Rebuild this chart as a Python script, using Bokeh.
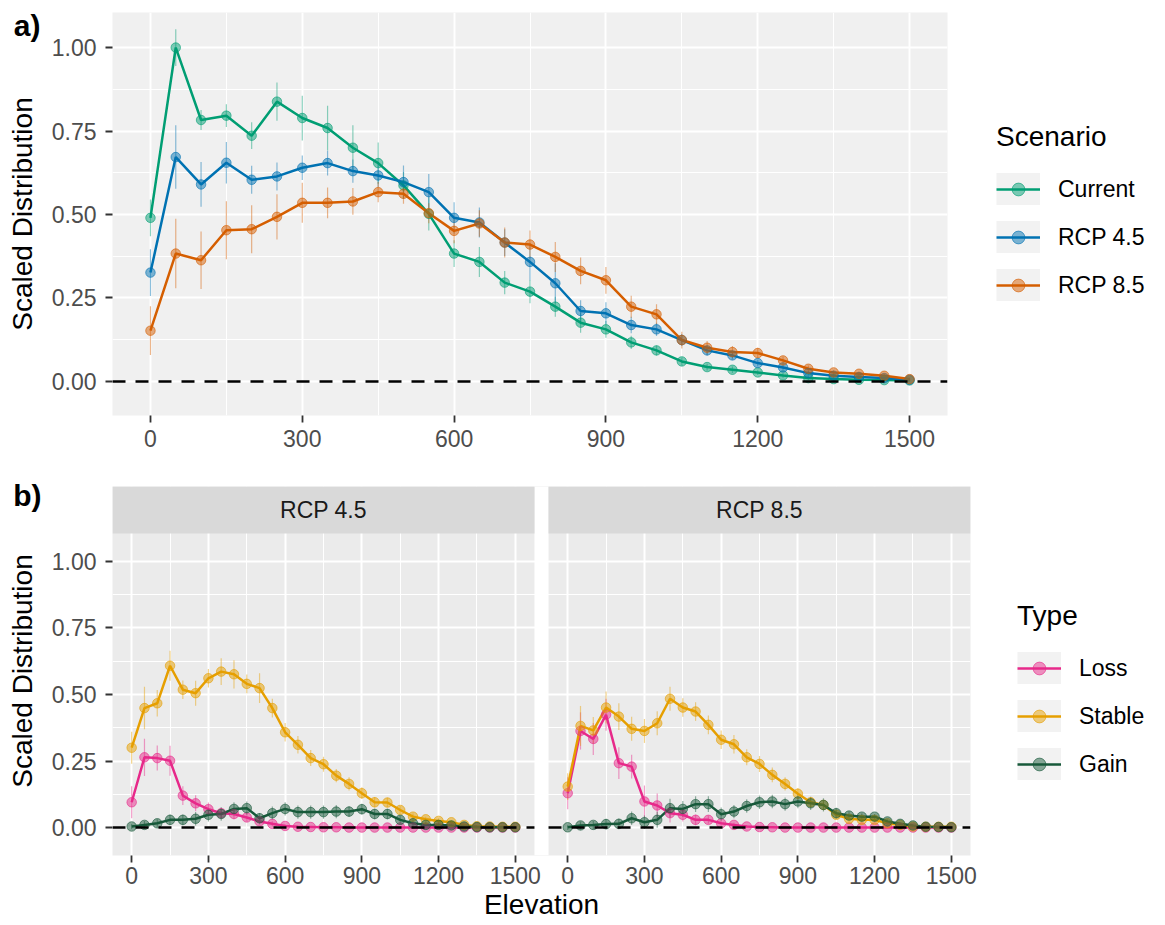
from bokeh.plotting import figure
from bokeh.models import (Range1d, FixedTicker, NumeralTickFormatter, Span, Label,
                          Legend, LegendItem, GridBox)
from bokeh.embed import file_html
from bokeh.resources import INLINE

# ---------------- data ----------------
elevation = [0, 50, 100, 150, 200, 250, 300, 350, 400, 450, 500, 550, 600, 650, 700, 750,
             800, 850, 900, 950, 1000, 1050, 1100, 1150, 1200, 1250, 1300, 1350, 1400, 1450, 1500]

scenarios = ["Current", "RCP 4.5", "RCP 8.5"]
current = [0.490, 1.000, 0.783, 0.796, 0.736, 0.838, 0.789, 0.759, 0.700, 0.654, 0.587, 0.502,
           0.383, 0.358, 0.296, 0.269, 0.224, 0.176, 0.156, 0.117, 0.093, 0.060, 0.043, 0.035,
           0.027, 0.018, 0.010, 0.007, 0.005, 0.004, 0.003]
current_err = [0.055, 0.055, 0.030, 0.034, 0.040, 0.057, 0.067, 0.067, 0.067, 0.062, 0.040, 0.050,
               0.040, 0.045, 0.035, 0.035, 0.030, 0.030, 0.025, 0.020, 0.015, 0.012, 0.010, 0.010,
               0.008, 0.007, 0.006, 0.005, 0.005, 0.004, 0.003]
rcp45 = [0.326, 0.672, 0.590, 0.655, 0.604, 0.614, 0.640, 0.654, 0.630, 0.617, 0.597, 0.567,
         0.490, 0.476, 0.416, 0.358, 0.294, 0.211, 0.204, 0.169, 0.156, 0.124, 0.093, 0.078,
         0.055, 0.042, 0.025, 0.017, 0.013, 0.010, 0.005]
rcp45_err = [0.070, 0.095, 0.067, 0.062, 0.042, 0.042, 0.037, 0.037, 0.035, 0.035, 0.050, 0.054,
             0.047, 0.045, 0.040, 0.055, 0.060, 0.032, 0.033, 0.025, 0.020, 0.018, 0.015, 0.012,
             0.010, 0.008, 0.007, 0.006, 0.005, 0.005, 0.004]
rcp85 = [0.152, 0.383, 0.363, 0.453, 0.456, 0.493, 0.535, 0.535, 0.539, 0.567, 0.562, 0.504,
         0.451, 0.473, 0.416, 0.410, 0.373, 0.331, 0.303, 0.224, 0.201, 0.124, 0.101, 0.088,
         0.085, 0.063, 0.038, 0.027, 0.023, 0.017, 0.007]
rcp85_err = [0.073, 0.104, 0.086, 0.087, 0.072, 0.068, 0.060, 0.046, 0.040, 0.030, 0.030, 0.030,
             0.037, 0.040, 0.045, 0.042, 0.045, 0.040, 0.040, 0.033, 0.030, 0.025, 0.020, 0.018,
             0.016, 0.012, 0.010, 0.008, 0.007, 0.006, 0.005]

types = ["Loss", "Stable", "Gain"]
loss45 = [0.095, 0.264, 0.261, 0.251, 0.120, 0.091, 0.069, 0.054, 0.051, 0.038, 0.023, 0.014,
          0.006, 0.003, 0.002, 0.001, 0.001, 0.0, 0.0, 0.0, 0.0, 0.0, 0.0, 0.0,
          0.0, 0.0, 0.0, 0.0, 0.0, 0.0, 0.0]
loss45_err = [0.060, 0.070, 0.047, 0.056, 0.035, 0.030, 0.025, 0.020, 0.020, 0.015, 0.012, 0.010,
              0.006, 0.004, 0.003, 0.002, 0.002, 0.001, 0.001, 0.0, 0.0, 0.0, 0.0, 0.0,
              0.0, 0.0, 0.0, 0.0, 0.0, 0.0, 0.0]
stable45 = [0.300, 0.449, 0.467, 0.608, 0.518, 0.505, 0.561, 0.586, 0.576, 0.540, 0.524, 0.449,
            0.358, 0.311, 0.261, 0.238, 0.195, 0.164, 0.129, 0.095, 0.094, 0.066, 0.041, 0.031,
            0.025, 0.020, 0.010, 0.005, 0.004, 0.003, 0.003]
stable45_err = [0.060, 0.080, 0.050, 0.056, 0.035, 0.047, 0.035, 0.050, 0.053, 0.035, 0.056, 0.035,
                0.035, 0.033, 0.030, 0.028, 0.025, 0.025, 0.022, 0.020, 0.018, 0.015, 0.012, 0.010,
                0.010, 0.008, 0.006, 0.005, 0.004, 0.003, 0.003]
gain45 = [0.004, 0.010, 0.016, 0.029, 0.029, 0.033, 0.048, 0.051, 0.070, 0.073, 0.035, 0.054,
          0.070, 0.058, 0.058, 0.058, 0.060, 0.060, 0.069, 0.051, 0.051, 0.029, 0.016, 0.010,
          0.010, 0.008, 0.004, 0.002, 0.001, 0.001, 0.001]
gain45_err = [0.010, 0.015, 0.015, 0.020, 0.020, 0.025, 0.025, 0.025, 0.025, 0.025, 0.020, 0.025,
              0.025, 0.025, 0.025, 0.025, 0.025, 0.020, 0.020, 0.020, 0.020, 0.015, 0.012, 0.010,
              0.008, 0.006, 0.005, 0.004, 0.003, 0.002, 0.002]
loss85 = [0.129, 0.363, 0.333, 0.424, 0.242, 0.229, 0.098, 0.083, 0.054, 0.048, 0.029, 0.029,
          0.016, 0.010, 0.004, 0.002, 0.001, 0.0, 0.0, 0.0, 0.0, 0.0, 0.0, 0.0,
          0.0, 0.0, 0.0, 0.0, 0.0, 0.0, 0.0]
loss85_err = [0.060, 0.070, 0.060, 0.060, 0.060, 0.045, 0.060, 0.045, 0.035, 0.025, 0.020, 0.015,
              0.010, 0.008, 0.005, 0.003, 0.002, 0.001, 0.001, 0.0, 0.0, 0.0, 0.0, 0.0,
              0.0, 0.0, 0.0, 0.0, 0.0, 0.0, 0.0]
stable85 = [0.154, 0.382, 0.365, 0.451, 0.417, 0.371, 0.363, 0.392, 0.484, 0.451, 0.436, 0.386,
            0.330, 0.313, 0.264, 0.239, 0.198, 0.164, 0.127, 0.095, 0.085, 0.048, 0.033, 0.029,
            0.029, 0.016, 0.010, 0.004, 0.003, 0.003, 0.003]
stable85_err = [0.050, 0.075, 0.050, 0.060, 0.050, 0.045, 0.045, 0.045, 0.045, 0.035, 0.035, 0.035,
                0.035, 0.035, 0.030, 0.030, 0.028, 0.025, 0.022, 0.020, 0.018, 0.015, 0.012, 0.010,
                0.010, 0.008, 0.006, 0.005, 0.004, 0.003, 0.003]
gain85 = [0.001, 0.008, 0.010, 0.013, 0.014, 0.035, 0.020, 0.029, 0.073, 0.070, 0.088, 0.088,
          0.050, 0.060, 0.081, 0.095, 0.098, 0.088, 0.098, 0.091, 0.085, 0.054, 0.045, 0.041,
          0.041, 0.023, 0.014, 0.008, 0.003, 0.002, 0.001]
gain85_err = [0.010, 0.015, 0.015, 0.020, 0.020, 0.025, 0.025, 0.030, 0.035, 0.030, 0.030, 0.030,
              0.025, 0.025, 0.025, 0.025, 0.025, 0.025, 0.025, 0.025, 0.025, 0.020, 0.015, 0.012,
              0.010, 0.008, 0.006, 0.005, 0.004, 0.003, 0.002]

x_ticks = [0, 300, 600, 900, 1200, 1500]
x_minor = [150, 450, 750, 1050, 1350]
y_ticks = [0.0, 0.25, 0.5, 0.75, 1.0]
y_minor = [0.125, 0.375, 0.625, 0.875]
facets = ["RCP 4.5", "RCP 8.5"]

# ---------------- style ----------------
FONT = "Liberation Sans"
SCEN_COLORS = ["#009E73", "#0072B2", "#D55E00"]
TYPE_COLORS = ["#E7298A", "#E69F00", "#17593A"]
X_LO, X_HI = -75, 1575
TICK_FS = "23px"
TITLE_FS = "28px"
KEY_BG = "#f2f2f2"


def new_fig(**kw):
    f = figure(output_backend="svg", toolbar_location=None, **kw)
    f.title.visible = False
    f.border_fill_color = "white"
    f.border_fill_alpha = 0
    f.outline_line_color = None
    return f


def base_axes(p, bg):
    p.background_fill_color = bg
    for g in (p.xgrid, p.ygrid):
        g.grid_line_color = "white"
        g.grid_line_width = 2
        g.minor_grid_line_color = "white"
        g.minor_grid_line_width = 1
    p.ygrid.ticker = FixedTicker(ticks=y_ticks, minor_ticks=y_minor)
    p.yaxis.ticker = FixedTicker(ticks=y_ticks)
    p.yaxis.formatter = NumeralTickFormatter(format="0.00")
    for ax in (p.xaxis, p.yaxis):
        ax.axis_line_color = None
        ax.major_tick_line_color = "#333333"
        ax.major_tick_line_width = 1.8
        ax.major_tick_out = 7
        ax.major_tick_in = 0
        ax.minor_tick_line_color = None
        ax.major_label_text_font = FONT
        ax.major_label_text_font_size = TICK_FS
        ax.major_label_text_color = "#4d4d4d"
        ax.axis_label_text_font = FONT
        ax.axis_label_text_font_size = TITLE_FS
        ax.axis_label_text_font_style = "normal"
        ax.axis_label_text_color = "black"
    p.yaxis.major_label_standoff = 9
    p.yaxis.axis_label = "Scaled Distribution"
    p.yaxis.axis_label_standoff = 11
    # range far outside the view: used only to give the legend keys their grey box
    p.extra_y_ranges = {"keybox": Range1d(50, 51)}


def draw(p, values, errs, colors, rng="default"):
    for v, e, c in zip(values, errs, colors):
        lo = [a - b for a, b in zip(v, e)]
        hi = [a + b for a, b in zip(v, e)]
        p.segment(x0=elevation, y0=lo, x1=elevation, y1=hi, line_color=c,
                  line_alpha=0.45, line_width=1.2, x_range_name=rng)
    lines, pts = [], []
    for v, c in zip(values, colors):
        lines.append(p.line(elevation, v, line_color=c, line_width=2.5, x_range_name=rng))
    for v, c in zip(values, colors):
        pts.append(p.scatter(elevation, v, size=9.5, fill_color=c, fill_alpha=0.5,
                             line_color=c, line_alpha=0.6, line_width=1, x_range_name=rng))
    return lines, pts


def add_legend(p, title, labels, values, lines, pts, vx, vy):
    items = []
    for lab, v, ln, pt in zip(labels, values, lines, pts):
        box = p.line(elevation, v, y_range_name="keybox", line_color=KEY_BG, line_width=48)
        items.append(LegendItem(label=lab, renderers=[box, ln, pt]))
    leg = Legend(items=items, location=(vx, vy), title=title,
                 title_text_font=FONT, title_text_font_size=TITLE_FS,
                 title_text_font_style="normal", title_text_color="black",
                 title_standoff=20,
                 label_text_font=FONT, label_text_font_size=TICK_FS, label_text_color="black",
                 glyph_width=44, glyph_height=32, label_height=32, spacing=16,
                 label_standoff=18, padding=0, margin=0,
                 border_line_color=None, background_fill_alpha=0)
    p.add_layout(leg, "right")


def tag_fig(tag, tag_y, standoff, **geom):
    """Transparent twin of a panel (same geometry) whose only tick label is the panel tag."""
    f = new_fig(x_axis_location=None, **geom)
    f.background_fill_alpha = 0
    f.grid.visible = False
    f.yaxis.ticker = FixedTicker(ticks=[tag_y])
    f.yaxis.major_label_overrides = {tag_y: tag}
    f.yaxis.axis_line_color = None
    f.yaxis.major_tick_line_color = None
    f.yaxis.minor_tick_line_color = None
    f.yaxis.major_tick_out = 0
    f.yaxis.major_tick_in = 0
    f.yaxis.major_label_standoff = standoff
    f.yaxis.major_label_text_font = FONT
    f.yaxis.major_label_text_font_size = "30px"
    f.yaxis.major_label_text_font_style = "bold"
    f.yaxis.major_label_text_color = "black"
    return f


# ---------------- panel a ----------------
Y_LO_A, Y_HI_A = -0.102, 1.105
geom_a = dict(frame_width=835, frame_height=403, min_border_left=110, min_border_right=220,
              min_border_top=12, min_border_bottom=55)
pa = new_fig(x_range=Range1d(X_LO, X_HI), y_range=Range1d(Y_LO_A, Y_HI_A), **geom_a)
base_axes(pa, "#f0f0f0")
pa.xgrid.ticker = FixedTicker(ticks=x_ticks, minor_ticks=x_minor)
pa.xaxis.ticker = FixedTicker(ticks=x_ticks)
pa.xaxis.major_label_standoff = 7
a_values = [current, rcp45, rcp85]
la, pa_pts = draw(pa, a_values, [current_err, rcp45_err, rcp85_err], SCEN_COLORS)
pa.add_layout(Span(location=0, dimension="width", line_color="black",
                   line_width=2.5, line_dash="13 10"))
add_legend(pa, "Scenario", scenarios, a_values, la, pa_pts, 49, 114)

# ---------------- panel b ----------------
B_PANEL_PX = 322
STRIP_PX = 47
Y_LO_B, Y_HI_B = -0.105, 1.105
y_px_per_unit = B_PANEL_PX / (Y_HI_B - Y_LO_B)
Y_TOP_B = Y_HI_B + STRIP_PX / y_px_per_unit
FACET_PX = 422
x_px_per_unit = FACET_PX / (X_HI - X_LO)
GAP = 55
SHIFT = (X_HI - X_LO) + GAP
FRAME_B_W = round((X_HI - X_LO + SHIFT) * x_px_per_unit)

geom_b = dict(frame_width=FRAME_B_W, frame_height=B_PANEL_PX + STRIP_PX,
              min_border_left=112, min_border_right=195, min_border_top=16, min_border_bottom=70)
pb = new_fig(x_range=Range1d(X_LO, X_HI + SHIFT), y_range=Range1d(Y_LO_B, Y_TOP_B), **geom_b)
pb.extra_x_ranges = {"r": Range1d(X_LO - SHIFT, X_HI)}
base_axes(pb, "#ebebeb")
all_major = x_ticks + [t + SHIFT for t in x_ticks]
all_minor = x_minor + [t + SHIFT for t in x_minor]
pb.xgrid.ticker = FixedTicker(ticks=all_major, minor_ticks=all_minor)
pb.xaxis.ticker = FixedTicker(ticks=all_major)
overrides = {t: str(t) for t in x_ticks}
overrides.update({t + SHIFT: str(t) for t in x_ticks})
pb.xaxis.major_label_overrides = overrides
pb.xaxis.major_label_standoff = 4
pb.xaxis.axis_label = "Elevation"
pb.xaxis.axis_label_standoff = 2

b_values = [[loss45, stable45, gain45], [loss85, stable85, gain85]]
b_errs = [[loss45_err, stable45_err, gain45_err], [loss85_err, stable85_err, gain85_err]]
ranges = ["default", "r"]

# white gap between the two facets
pb.quad(left=X_HI, right=X_HI + GAP, bottom=Y_LO_B, top=Y_TOP_B,
        fill_color="white", line_color=None)
b_lines, b_pts = None, None
for i, facet in enumerate(facets):
    lines, pts = draw(pb, b_values[i], b_errs[i], TYPE_COLORS, rng=ranges[i])
    if i == 0:
        b_lines, b_pts = lines, pts
    pb.segment(x0=[X_LO], y0=[0], x1=[X_HI], y1=[0], line_color="black", line_width=2.5,
               line_dash="13 10", x_range_name=ranges[i])
    pb.quad(left=X_LO, right=X_HI, bottom=Y_HI_B, top=Y_TOP_B,
            fill_color="#d9d9d9", line_color=None, x_range_name=ranges[i])
    pb.add_layout(Label(x=(X_LO + X_HI) / 2, y=(Y_HI_B + Y_TOP_B) / 2, text=facet,
                        x_range_name=ranges[i],
                        text_font=FONT, text_font_size=TICK_FS, text_color="#1a1a1a",
                        text_align="center", text_baseline="middle"))
add_legend(pb, "Type", types, b_values[0], b_lines, b_pts, 47, 75)

# ---------------- panel tags ----------------
tag_a_y = Y_HI_A - 13 / (403 / (Y_HI_A - Y_LO_A))
tag_b_y = Y_TOP_B - 9 / y_px_per_unit
tag_a = tag_fig("a)", tag_a_y, 72, x_range=Range1d(X_LO, X_HI),
                y_range=Range1d(Y_LO_A, Y_HI_A), **geom_a)
tag_b = tag_fig("b)", tag_b_y, 71, x_range=Range1d(X_LO, X_HI),
                y_range=Range1d(Y_LO_B, Y_TOP_B), **geom_b)

layout = GridBox(children=[(pa, 0, 0), (tag_a, 0, 0), (pb, 1, 0), (tag_b, 1, 0)], spacing=0)

with open("out.html", "w") as f:
    f.write(file_html(layout, INLINE))
